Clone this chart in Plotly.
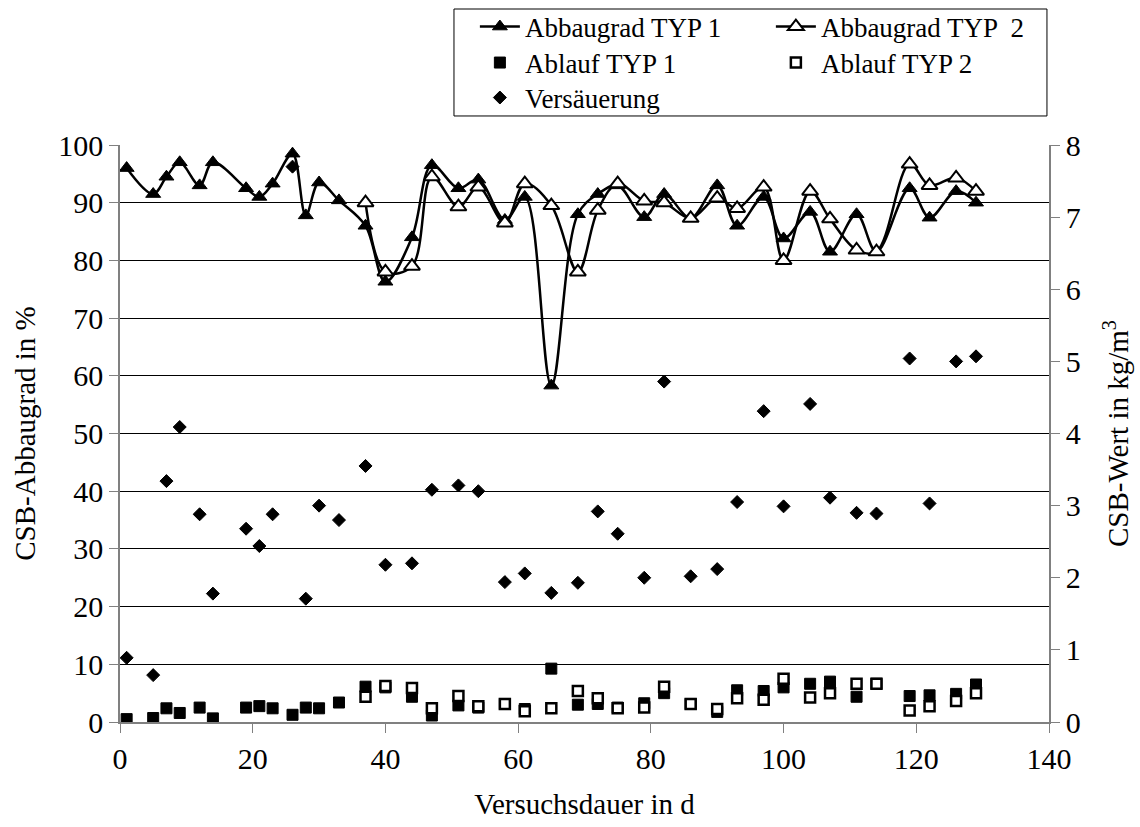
import plotly.graph_objects as go

# ---- data ----
days_typ1 = [1, 5, 7, 9, 12, 14, 19, 21, 23, 26, 28, 30, 33, 37, 40, 44, 47, 51, 54, 58,
             61, 65, 69, 72, 75, 79, 82, 86, 90, 93, 97, 100, 104, 107, 111, 114, 119, 122, 126, 129]
abbau_typ1 = [96, 91.5, 94.5, 97, 93, 97, 92.5, 91, 93.3, 98.5, 87.8, 93.5, 90.4, 86, 76.3, 84, 96.5, 92.5, 94, 87,
              91, 58.3, 88, 91.5, 93, 87.5, 91.5, 87.3, 93, 86, 91, 83.8, 88.4, 81.5, 88, 81.5, 92.5, 87.4, 92, 90]

days_typ2 = [37, 40, 44, 47, 51, 54, 58, 61, 65, 69, 72, 75, 79, 82, 86, 90, 93, 97, 100, 104,
             107, 111, 114, 119, 122, 126, 129]
abbau_typ2 = [90, 78, 79, 94.5, 89.3, 92.7, 86.5, 93.3, 89.5, 78, 88.7, 93.3, 90.3, 90, 87.3, 90.8, 89, 92.7, 80, 92,
              87.2, 81.8, 81.5, 96.7, 93, 94.3, 92]

ablauf_typ1 = [0.04, 0.055, 0.19, 0.125, 0.2, 0.05, 0.2, 0.22, 0.19, 0.1, 0.2, 0.19, 0.27, 0.49, 0.48, 0.35, 0.09, 0.23, 0.2, 0.25,
               0.18, 0.74, 0.24, 0.25, 0.2, 0.26, 0.4, 0.25, 0.14, 0.44, 0.43, 0.48, 0.53, 0.56, 0.35, 0.53, 0.36, 0.37, 0.39, 0.52]
ablauf_typ2 = [0.35, 0.5, 0.47, 0.19, 0.36, 0.22, 0.25, 0.15, 0.19, 0.43, 0.33, 0.19, 0.2, 0.49, 0.25, 0.18, 0.33, 0.31, 0.6, 0.34,
               0.4, 0.53, 0.53, 0.16, 0.22, 0.29, 0.4]

versaeuerung = [0.89, 0.65, 3.34, 4.09, 2.88, 1.78, 2.68, 2.44, 2.88, 7.7, 1.71, 3.0, 2.8, 3.55, 2.18, 2.2, 3.22, 3.28, 3.2, 1.94,
                2.06, 1.79, 1.93, 2.92, 2.61, 2.0, 4.72, 2.02, 2.12, 3.05, 4.31, 2.99, 4.41, 3.11, 2.9, 2.89, 5.04, 3.03, 5.0, 5.07]

x_ticks = [0, 20, 40, 60, 80, 100, 120, 140]
y_ticks = [0, 10, 20, 30, 40, 50, 60, 70, 80, 90, 100]
y2_ticks = [0, 1, 2, 3, 4, 5, 6, 7, 8]

FONT = "Liberation Serif"
TICK = 30
TITLE = 29
LEGEND_FONT = 27

fig = go.Figure()
fig.add_trace(go.Scatter(
    x=days_typ1, y=abbau_typ1, name="Abbaugrad TYP 1", mode="lines+markers", legend="legend",
    line=dict(color="black", width=2.5, shape="spline", smoothing=1),
    marker=dict(symbol="triangle-up", size=13, color="black", line=dict(color="black", width=1)),
))
fig.add_trace(go.Scatter(
    x=days_typ2, y=abbau_typ2, name="Abbaugrad TYP  2", mode="lines+markers", legend="legend",
    line=dict(color="black", width=2.5, shape="spline", smoothing=1),
    marker=dict(symbol="triangle-up", size=14, color="white", line=dict(color="black", width=2)),
))
fig.add_trace(go.Scatter(
    x=days_typ1, y=ablauf_typ1, name="Ablauf TYP 1", mode="markers", yaxis="y2", legend="legend2",
    marker=dict(symbol="square", size=11, color="black", line=dict(color="black", width=1)),
))
fig.add_trace(go.Scatter(
    x=days_typ2, y=ablauf_typ2, name="Ablauf TYP 2", mode="markers", yaxis="y2", legend="legend2",
    marker=dict(symbol="square", size=10, color="white", line=dict(color="black", width=2.5)),
))
fig.add_trace(go.Scatter(
    x=days_typ1, y=versaeuerung, name="Versäuerung", mode="markers", yaxis="y2", legend="legend3",
    marker=dict(symbol="diamond", size=10, color="black", line=dict(color="black", width=1)),
))

legend_common = dict(
    orientation="h", x=0.382, xanchor="left", yanchor="middle",
    xref="paper", yref="paper",
    entrywidth=241, entrywidthmode="pixels",
    bgcolor="rgba(0,0,0,0)", borderwidth=0,
    font=dict(family=FONT, size=LEGEND_FONT, color="black"),
    itemwidth=40, tracegroupgap=0,
)

fig.update_layout(
    width=1140, height=827,
    margin=dict(l=120, r=91, t=145, b=105, autoexpand=False),
    paper_bgcolor="white", plot_bgcolor="white",
    font=dict(family=FONT, color="black", size=TICK),
    showlegend=True,
    legend=dict(legend_common, y=1.2045),
    legend2=dict(legend_common, y=1.1421),
    legend3=dict(legend_common, y=1.0815),
    shapes=[dict(type="rect", xref="paper", yref="paper",
                 x0=0.3595, x1=0.9978, y0=1.0503, y1=1.2357,
                 line=dict(color="black", width=1), fillcolor="rgba(0,0,0,0)", layer="above")],
    xaxis=dict(
        range=[0, 140], tickvals=x_ticks, ticks="outside", ticklen=9, tickcolor="#808080",
        showline=True, linecolor="#808080", linewidth=1.5, showgrid=False, zeroline=False,
        title=dict(text="Versuchsdauer in d", font=dict(size=TITLE), standoff=20),
        tickfont=dict(size=TICK), automargin=False,
    ),
    yaxis=dict(
        range=[0, 100], tickvals=y_ticks, ticks="outside", ticklen=9, tickcolor="#808080",
        showline=True, linecolor="#808080", linewidth=1.5, showgrid=True, gridcolor="black", gridwidth=1,
        zeroline=False,
        title=dict(text="CSB-Abbaugrad in %", font=dict(size=TITLE), standoff=14),
        tickfont=dict(size=TICK), automargin=False,
    ),
    yaxis2=dict(
        range=[0, 8], tickvals=y2_ticks, ticks="outside", ticklen=9, tickcolor="#808080",
        overlaying="y", side="right", anchor="x",
        showline=True, linecolor="#808080", linewidth=1.5, showgrid=False, zeroline=False,
        title=dict(text="CSB-Wert in kg/m<sup>3</sup>", font=dict(size=TITLE), standoff=28),
        tickfont=dict(size=TICK), automargin=False,
    ),
)

fig.write_html("out.html", config={"displayModeBar": False},
               post_script="document.body.style.margin='0px';")
